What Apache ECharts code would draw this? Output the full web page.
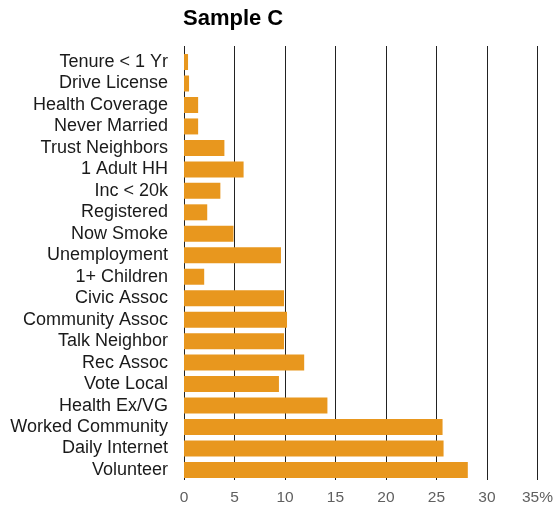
<!DOCTYPE html>
<html>
<head>
<meta charset="utf-8">
<style>
  html, body { margin: 0; padding: 0; background: #fff; }
  #chart { width: 556px; height: 506px; }
</style>
<script src="https://cdn.jsdelivr.net/npm/echarts@6/dist/echarts.min.js"></script>
</head>
<body>
<div id="chart"></div>
<script>
const categories = [
  'Tenure < 1 Yr', 'Drive License', 'Health Coverage', 'Never Married',
  'Trust Neighbors', '1 Adult HH', 'Inc < 20k', 'Registered', 'Now Smoke',
  'Unemployment', '1+ Children', 'Civic Assoc', 'Community Assoc',
  'Talk Neighbor', 'Rec Assoc', 'Vote Local', 'Health Ex/VG',
  'Worked Community', 'Daily Internet', 'Volunteer'
];
const values = [
  0.4, 0.5, 1.4, 1.4,
  4.0, 5.9, 3.6, 2.3, 4.9,
  9.6, 2.0, 9.9, 10.2,
  9.9, 11.9, 9.4, 14.2,
  25.6, 25.7, 28.1
];
const tickLabels = ['0', '5', '10', '15', '20', '25', '30', '35%'];
const titleText = 'Sample C';

const chart = echarts.init(document.getElementById('chart'), null, { renderer: 'canvas' });
const font = '"Liberation Sans", Arial, sans-serif';

chart.setOption({
  animation: false,
  backgroundColor: '#ffffff',
  title: {
    text: titleText,
    left: 183,
    top: 8,
    padding: 0,
    textStyle: { fontFamily: font, fontWeight: 'bold', fontSize: 22, color: '#000' }
  },
  grid: [
    { left: 184, right: 18.5, top: 46, bottom: 25, containLabel: false },
    { left: 184, right: 18.5, top: 51.3, bottom: 25.3, containLabel: false }
  ],
  xAxis: [
    {
      gridIndex: 0, type: 'value', min: 0, max: 35, interval: 5,
      axisLine: { show: false }, axisTick: { show: false },
      splitLine: { show: true, lineStyle: { color: '#222', width: 1 } },
      axisLabel: {
        margin: 10, fontFamily: font, fontSize: 15.5, color: '#606060',
        formatter: function (v) { return tickLabels[Math.round(v / 5)]; }
      }
    },
    {
      gridIndex: 1, type: 'value', min: 0, max: 35, interval: 5, show: false,
      splitLine: { show: false }
    }
  ],
  yAxis: [
    {
      gridIndex: 0, type: 'category', data: categories, show: false, inverse: true
    },
    {
      gridIndex: 1, type: 'category', data: categories, inverse: true,
      axisLine: { show: false }, axisTick: { show: false },
      axisLabel: { interval: 0, margin: 16, padding: [4, 0, 0, 0], fontFamily: font, fontSize: 18, color: '#1a1a1a' }
    }
  ],
  series: [
    {
      type: 'bar', xAxisIndex: 1, yAxisIndex: 1, data: values,
      barWidth: 16,
      itemStyle: { color: '#E8971E' }
    }
  ]
});
</script>
</body>
</html>
